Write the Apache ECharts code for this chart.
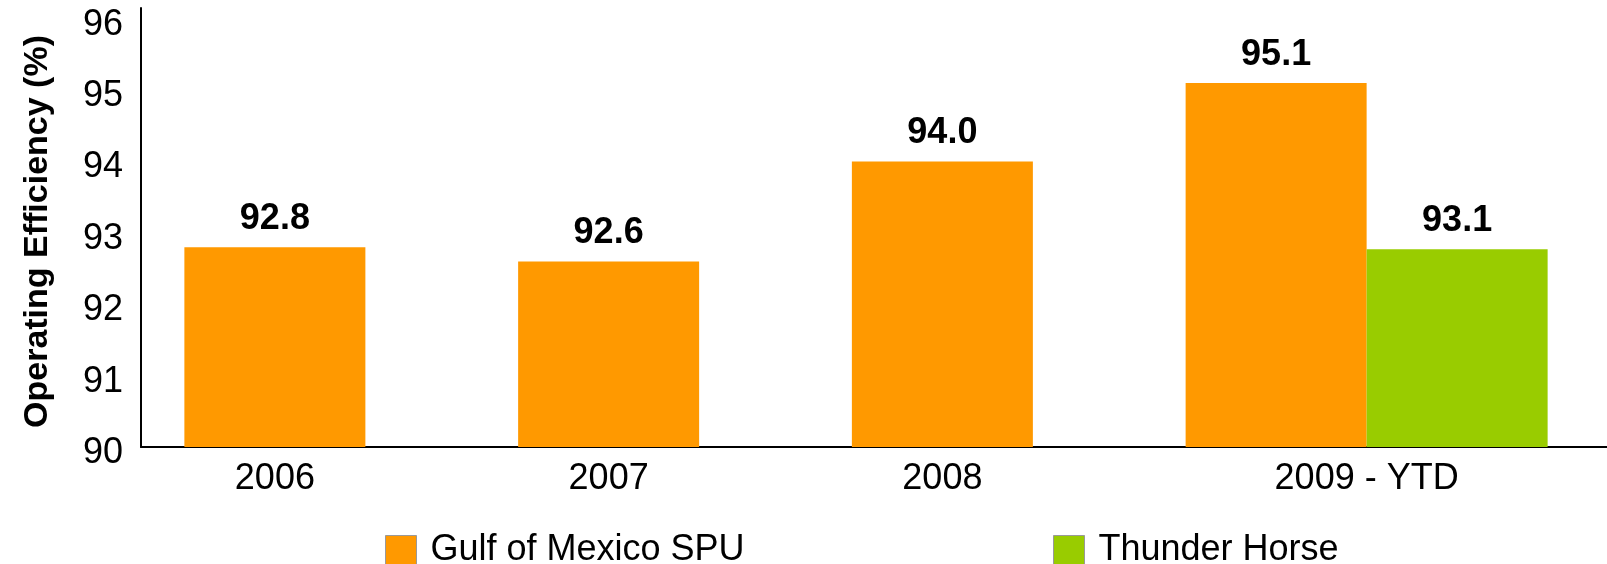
<!DOCTYPE html>
<html>
<head>
<meta charset="utf-8">
<script src="https://cdn.jsdelivr.net/npm/echarts@6/dist/echarts.min.js"></script>
<style>
    html, body { margin: 0; padding: 0; background: #fff; }
    #chart { width: 1607px; height: 564px; }
</style>
</head>
<body>
<div id="chart"></div>
<script>
    // data
    const categories = ['2006', '2007', '2008', '2009 - YTD'];
    const gulfValues = [92.8, 92.6, 94.0, 95.1];
    // the source draws the Thunder Horse bar at ~92.8 but prints 93.1 above it
    const thunderValues = ['-', '-', '-', 92.77];
    const thunderLabels = ['', '', '', '93.1'];
    const yMin = 90;
    const yMax = 96.15;
    const yStep = 1;

    const font = "'Liberation Sans', Arial, sans-serif";
    const orange = '#FF9900';
    const green = '#99CC00';
    const barW = 181;
    const plotW = 1335;

    const myChart = echarts.init(document.getElementById('chart'));

    const barLabel = {
        show: true,
        position: 'top',
        distance: 10,
        color: '#000',
        fontSize: 36,
        fontWeight: 'bold',
        fontFamily: font
    };

    const legendText = { fontSize: 36, lineHeight: 36, color: '#000', fontFamily: font, padding: [0, 0, 0, 9] };

    myChart.setOption({
        animation: false,
        grid: [
            // frame (axis lines + y labels)
            { left: 141, right: 0, top: 8, bottom: 117, outerBoundsMode: 'none' },
            // Gulf of Mexico bars
            { left: 108, width: plotW, top: 8, bottom: 117, outerBoundsMode: 'none' },
            // Thunder Horse, one bar width to the right
            { left: 108 + barW, width: plotW, top: 8, bottom: 117, outerBoundsMode: 'none' }
        ],
        legend: [
            {
                data: ['Gulf of Mexico SPU'],
                left: 380, top: 527,
                icon: 'rect', itemWidth: 31, itemHeight: 29,
                itemStyle: { borderColor: '#999', borderWidth: 1 },
                textStyle: legendText
            },
            {
                data: ['Thunder Horse'],
                left: 1048, top: 527,
                icon: 'rect', itemWidth: 31, itemHeight: 29,
                itemStyle: { borderColor: '#999', borderWidth: 1 },
                textStyle: legendText
            }
        ],
        xAxis: [
            {
                gridIndex: 0, type: 'category', data: categories,
                axisLine: { onZero: false, lineStyle: { color: '#000', width: 2 } },
                axisTick: { show: false },
                axisLabel: { show: false }
            },
            {
                gridIndex: 1, type: 'category', data: categories,
                axisLine: { show: false },
                axisTick: { show: false },
                axisLabel: {
                    interval: 0,
                    hideOverlap: false,
                    margin: 14,
                    fontSize: 36, color: '#000', fontFamily: font,
                    formatter: function (v, i) {
                        return i === categories.length - 1 ? '{shift|' + v + '}' : v;
                    },
                    rich: {
                        shift: { padding: [0, 0, 0, barW], fontSize: 36, color: '#000', fontFamily: font }
                    }
                }
            },
            {
                gridIndex: 2, type: 'category', data: categories, show: false
            }
        ],
        yAxis: [
            {
                gridIndex: 0, type: 'value', min: yMin, max: yMax, interval: yStep,
                name: 'Operating Efficiency (%)',
                nameLocation: 'middle',
                nameGap: 86,
                nameTextStyle: { fontSize: 34, fontWeight: 'bold', color: '#000', fontFamily: font, padding: [0, 8, 0, 0] },
                splitLine: { show: false },
                axisTick: { show: false },
                axisLine: { show: true, lineStyle: { color: '#000', width: 2 } },
                axisLabel: {
                    margin: 18,
                    fontSize: 36, color: '#000', fontFamily: font,
                    formatter: function (v) {
                        return Number.isInteger(v) ? '{v|' + v + '}' : '';
                    },
                    rich: {
                        v: { padding: [12, 0, 0, 0], fontSize: 36, color: '#000', fontFamily: font }
                    }
                }
            },
            { gridIndex: 1, type: 'value', min: yMin, max: yMax, interval: yStep, show: false },
            { gridIndex: 2, type: 'value', min: yMin, max: yMax, interval: yStep, show: false }
        ],
        series: [
            {
                name: 'Gulf of Mexico SPU',
                type: 'bar',
                xAxisIndex: 1, yAxisIndex: 1,
                data: gulfValues,
                barWidth: barW,
                itemStyle: { color: orange },
                label: Object.assign({}, barLabel, {
                    formatter: function (p) { return p.value.toFixed(1); }
                })
            },
            {
                name: 'Thunder Horse',
                type: 'bar',
                xAxisIndex: 2, yAxisIndex: 2,
                data: thunderValues,
                barWidth: barW,
                itemStyle: { color: green },
                label: Object.assign({}, barLabel, {
                    formatter: function (p) { return thunderLabels[p.dataIndex]; }
                })
            }
        ]
    });
</script>
</body>
</html>
